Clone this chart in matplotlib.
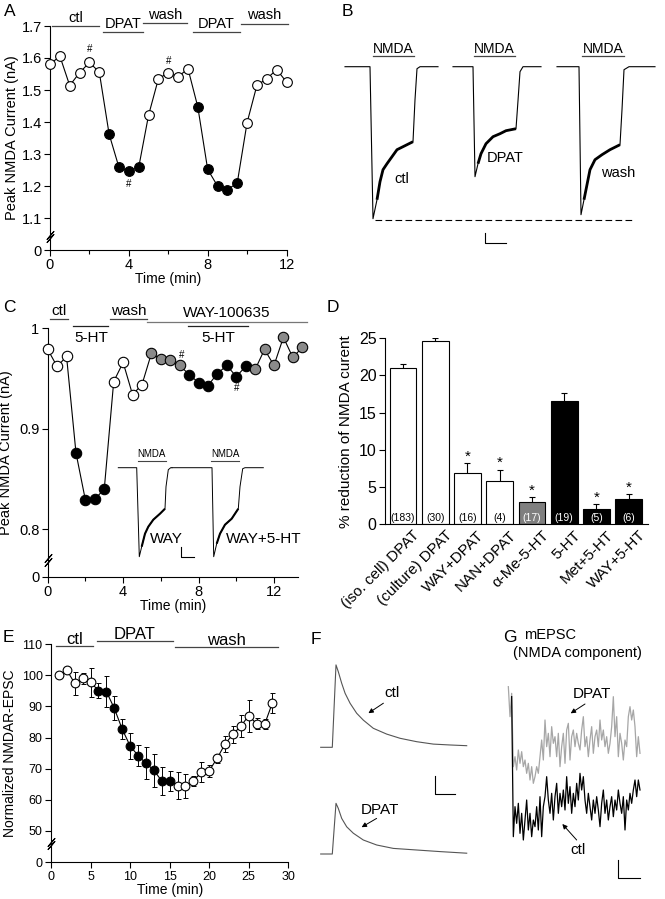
import matplotlib
matplotlib.use("Agg")
import matplotlib.pyplot as plt
import matplotlib.transforms as mt
import numpy as np

plt.rcParams["font.family"] = ["Liberation Sans", "DejaVu Sans"]
plt.rcParams["axes.linewidth"] = 0.8

W, H = 665, 899

# ---------------- panel A: peak NMDA current time course
a_time = [0, 0.5, 1, 1.5, 2, 2.5, 3, 3.5, 4, 4.5, 5, 5.5, 6, 6.5, 7, 7.5, 8, 8.5, 9, 9.5, 10, 10.5, 11, 11.5, 12]
a_current = [1.58, 1.606, 1.514, 1.554, 1.586, 1.556, 1.362, 1.258, 1.247, 1.258, 1.421, 1.535, 1.554,
             1.541, 1.567, 1.447, 1.252, 1.200, 1.189, 1.209, 1.398, 1.515, 1.535, 1.564, 1.525]
a_state = "oooooo" "ffff" "ooooo" "fffff" "ooooo"
a_bar_labels = ["ctl", "DPAT", "wash", "DPAT", "wash"]
a_bar_start = [0.08, 2.68, 4.71, 7.25, 9.7]
a_bar_end = [2.5, 4.71, 6.95, 9.63, 12.07]
a_bar_level = [1.700, 1.680, 1.708, 1.680, 1.706]
a_text_level = [1.726, 1.707, 1.734, 1.707, 1.734]
a_hash = [(2.0, 1.627), (4.0, 1.205), (6.0, 1.591)]

# ---------------- panel B: example NMDA currents (time s, current nA)
b_t_ctl = [0, 2.5, 2.8, 3.2, 3.5, 3.8, 4.2, 4.7, 5.2, 5.8, 6.8, 7.0, 7.2, 7.5, 9.3]
b_i_ctl = [0, 0, -1.52, -1.33, -1.15, -1.03, -0.97, -0.90, -0.83, -0.80, -0.75, -0.33, -0.02, 0, 0]
b_t_dpat = [0, 2.0, 2.2, 2.5, 2.8, 3.3, 4.0, 4.7, 5.3, 6.3, 6.5, 6.7, 7.0, 8.8]
b_i_dpat = [0, 0, -1.10, -0.97, -0.87, -0.77, -0.70, -0.67, -0.64, -0.62, -0.34, -0.05, 0, 0]
b_t_wash = [0, 2.2, 2.4, 2.7, 3.0, 3.3, 3.8, 4.5, 5.3, 6.3, 6.5, 6.7, 7.2, 9.8]
b_i_wash = [0, 0, -1.48, -1.33, -1.18, -1.03, -0.93, -0.88, -0.83, -0.78, -0.43, -0.03, 0, 0]
b_offsets = [1.5, 12.3, 22.7]
b_noisy_end = [11, 10, 10]
b_labels = ["ctl", "DPAT", "wash"]
b_label_pos = [(7.17, -1.12), (17.5, -0.91), (28.83, -1.06)]
b_nmda = [(4.27, 8.4), (14.4, 18.5), (25.23, 29.43)]

# ---------------- panel C: 5-HT with WAY-100635
c_time = [0, 0.5, 1, 1.5, 2, 2.5, 3, 3.5, 4, 4.5, 5, 5.5, 6, 6.5, 7, 7.5, 8, 8.5, 9, 9.5, 10,
          10.5, 11, 11.5, 12, 12.5, 13, 13.5]
c_current = [0.979, 0.962, 0.972, 0.876, 0.829, 0.830, 0.840, 0.947, 0.966, 0.934, 0.944, 0.975,
             0.969, 0.968, 0.963, 0.954, 0.946, 0.943, 0.955, 0.963, 0.952, 0.962, 0.959, 0.979,
             0.963, 0.991, 0.971, 0.981]
c_state = "ooo" "ffff" "oooo" "gggg" "fffffff" "gggggg"
c_hash = [(7.1, 0.973), (10.0, 0.941)]

ci_t_way = [0, 1.84, 2.1, 2.34, 2.67, 3.0, 3.5, 4.17, 4.67, 4.77, 5.0, 5.24, 5.37]
ci_i_way = [0, 0, -0.89, -0.79, -0.66, -0.59, -0.52, -0.46, -0.41, -0.19, -0.02, 0, 0]
ci_t_way5ht = [0, 4.0, 4.17, 4.47, 4.8, 5.3, 5.97, 6.63, 6.8, 7.07, 7.3, 9.13]
ci_i_way5ht = [0, 0, -0.89, -0.76, -0.66, -0.57, -0.51, -0.41, -0.19, -0.01, 0, 0]
ci_noisy_end = [9, 8]

# ---------------- panel D: summary bars
d_labels = ["(iso. cell) DPAT", "(culture) DPAT", "WAY+DPAT", "NAN+DPAT", "\u03b1-Me-5-HT",
            "5-HT", "Met+5-HT", "WAY+5-HT"]
d_values = [21.0, 24.7, 6.8, 5.8, 3.0, 16.6, 2.0, 3.4]
d_err = [0.6, 0.35, 1.4, 1.5, 0.6, 1.0, 0.65, 0.6]
d_n = ["(183)", "(30)", "(16)", "(4)", "(17)", "(19)", "(5)", "(6)"]
d_group = ["w", "w", "w", "w", "g", "k", "k", "k"]
d_sig = [False, False, True, True, True, False, True, True]

# ---------------- panel E: NMDAR-EPSC
e_time = list(range(1, 29))
e_value = [100.0, 101.7, 97.4, 99.0, 97.8, 95.1, 94.8, 89.4, 82.7, 77.3, 74.2, 71.7, 69.5, 66.0,
           66.0, 64.5, 64.4, 66.0, 68.8, 69.3, 73.3, 77.9, 81.0, 83.7, 87.0, 84.4, 84.2, 91.2]
e_err = [0.0, 1.0, 3.7, 1.7, 4.7, 2.4, 5.0, 3.8, 3.3, 4.1, 3.5, 5.2, 5.3, 4.5, 3.1, 4.3, 4.0,
         1.5, 3.2, 2.0, 1.5, 2.5, 2.8, 3.5, 5.2, 1.8, 1.6, 3.2]
e_state = "ooooo" "ffffffffff" "ooooooooooooo"

# ---------------- panel F: evoked EPSCs (ms, pA)
f_t_ctl = [0, 58, 76.5, 88, 105, 122, 147, 180, 213, 263, 330, 397, 480, 563, 647, 730]
f_i_ctl = [0, 0, 206, 189, 160, 135, 110, 85, 68, 47.5, 33, 22.5, 14, 8, 5.8, 4]
f_t_dpat = [0, 58, 76.5, 88, 105, 130, 163, 213, 280, 363, 480, 597, 730]
f_i_dpat = [0, 0, 126.7, 114, 89, 68, 52, 35, 22.5, 14, 10, 6, 2]

# ---------------- panel G: mEPSC NMDA component (0.5 ms samples)
g_dpat = [48, 39, 46, 24, 27, 23, 29, 25, 28.5, 24, 26, 22, 25, 20, 24, 19, 21, 24, 22, 27,
          32, 26, 38, 30, 34, 27, 36, 31, 33, 27, 34, 24, 30, 34, 25, 35, 37, 26, 33, 35,
          30, 34, 31, 29, 35, 39, 30, 33, 27, 32, 36, 28, 33, 35, 30, 38, 32, 35, 30, 33,
          28, 31, 36, 45, 33, 39, 27, 34, 31, 26, 32, 30, 39, 42, 38, 41, 36, 27, 33, 28]
g_ctl = [45, 3, 12, 7, 13, 4, 10, 2, 8, 14, 5, 10, 3, 8, 6, 12, 5, 15, 3, 12,
         15, 21, 14, 10, 16, 8, 15, 19, 10, 16, 12, 17, 11, 21, 13, 18, 10, 16, 12, 19,
         14, 22, 17, 21, 14, 10, 16, 12, 8, 14, 10, 15, 11, 6, 13, 17, 10, 14, 8, 12,
         15, 9, 14, 11, 17, 13, 10, 15, 5, 14, 11, 16, 13, 17, 20, 15, 20, 17]
g_t0_dpat, g_t0_ctl, g_dt = 2.5, 3.5, 0.5


def add_axes_px(left, top, right, bottom):
    return fig.add_axes([left / W, 1 - bottom / H, (right - left) / W, (bottom - top) / H])


def style_timecourse(ax, tick_size):
    for s in ("top", "right"):
        ax.spines[s].set_visible(False)
    ax.tick_params(direction="out", length=4, width=0.8, labelsize=tick_size, pad=2)
    ax.tick_params(which="minor", direction="out", length=3, width=0.8)


def break_marks(ax, yval, gap_pts=2.2):
    base = ax.get_yaxis_transform()
    for dy in (-gap_pts / 2, gap_pts / 2):
        tr = mt.offset_copy(base, fig=fig, x=0, y=dy, units="points")
        ax.plot([0], [yval], transform=tr, marker=(2, 2, -40), ms=8, color="black",
                mew=0.8, ls="none", clip_on=False, zorder=5)


def draw_points(ax, t, v, state, ms):
    face = {"o": "white", "f": "black", "g": "#8a8a8a"}
    ax.plot(t, v, color="black", lw=0.8, zorder=2, clip_on=False)
    for x, y, s in zip(t, v, state):
        ax.plot(x, y, "o", ms=ms, mfc=face[s], mec="black", mew=0.8, zorder=3, clip_on=False)


fig = plt.figure(figsize=(W / 100, H / 100), dpi=100)

# ================= A
ax = add_axes_px(50, 26, 286.5, 250)
ax.set_xlim(0, 12)
ax.set_ylim(1.0, 1.7)
draw_points(ax, a_time, a_current, a_state, 7)
for lab, x0, x1, ly, ty in zip(a_bar_labels, a_bar_start, a_bar_end, a_bar_level, a_text_level):
    ax.plot([x0, x1], [ly, ly], color="#444444", lw=0.9, clip_on=False)
    ax.text((x0 + x1) / 2, ty, lab, ha="center", va="center", fontsize=10.5)
for x, y in a_hash:
    ax.text(x, y, "#", ha="center", va="center", fontsize=7)
style_timecourse(ax, 10.5)
ax.set_yticks([1.0, 1.1, 1.2, 1.3, 1.4, 1.5, 1.6, 1.7])
ax.set_yticklabels(["0", "1.1", "1.2", "1.3", "1.4", "1.5", "1.6", "1.7"])
ax.set_xticks([0, 4, 8, 12])
ax.set_xticks([2, 6, 10], minor=True)
ax.set_xlabel("Time (min)", fontsize=10, labelpad=0)
ax.set_ylabel("Peak NMDA Current (nA)", fontsize=10.5, labelpad=2)
break_marks(ax, 1.041)

# ================= B
ax = add_axes_px(330, 30, 665, 260)
ax.set_xlim(0, 33.5)
ax.set_ylim(-1.933, 0.367)
ax.axis("off")
for off, tt, ii, end, lab, pos, nm in zip(b_offsets, [b_t_ctl, b_t_dpat, b_t_wash],
                                          [b_i_ctl, b_i_dpat, b_i_wash], b_noisy_end,
                                          b_labels, b_label_pos, b_nmda):
    tt = np.array(tt) + off
    ax.plot(tt, ii, color="black", lw=0.8)
    ax.plot(tt[3:end], ii[3:end], color="black", lw=2.0, solid_capstyle="butt")
    ax.text(pos[0], pos[1], lab, ha="center", va="center", fontsize=10.5)
    ax.plot(nm, [0.107, 0.107], color="#444444", lw=0.9)
    ax.text(np.mean(nm), 0.175, "NMDA", ha="center", va="center", fontsize=10)
ax.plot([4.5, 30.3], [-1.53, -1.53], color="black", lw=0.8, dashes=(6, 3))
ax.plot([15.5, 15.5, 17.6], [-1.66, -1.76, -1.76], color="black", lw=0.8)

# ================= C
ax = add_axes_px(47.7, 328.3, 298.3, 576.7)
ax.set_xlim(0, 13.29)
ax.set_ylim(0.7528, 1.0)
draw_points(ax, c_time, c_current, c_state, 7.5)
c_bars = [("ctl", 0.12, 1.06, 1.009, 1.0168, "#444444"),
          ("5-HT", 1.36, 3.22, 1.0023, 0.9905, "#222222"),
          ("wash", 3.30, 5.25, 1.009, 1.0172, "#444444"),
          ("WAY-100635", 5.25, 13.73, 1.0066, 1.0152, "#777777"),
          ("5-HT", 7.46, 10.64, 1.0023, 0.9905, "#222222")]
for lab, x0, x1, ly, ty, col in c_bars:
    ax.plot([x0, x1], [ly, ly], color=col, lw=0.9, clip_on=False)
    ax.text((x0 + x1) / 2, ty, lab, ha="center", va="center", fontsize=11)
for x, y in c_hash:
    ax.text(x, y, "#", ha="center", va="center", fontsize=7)
style_timecourse(ax, 10.5)
ax.set_yticks([0.7528, 0.8, 0.9, 1.0])
ax.set_yticklabels(["0", "0.8", "0.9", "1"])
ax.set_xticks([0, 4, 8, 12])
ax.set_xticks([2, 6, 10], minor=True)
ax.set_xlabel("Time (min)", fontsize=10, labelpad=0)
ax.set_ylabel("Peak NMDA Current (nA)", fontsize=10.5, labelpad=4)
break_marks(ax, 0.7694)

# inset traces
ax = add_axes_px(110, 450, 300, 570)
ax.set_xlim(0, 19)
ax.set_ylim(-1.023, 0.177)
ax.axis("off")
for off, tt, ii, end, nm, lab, lx in zip([0.83, 6.2], [ci_t_way, ci_t_way5ht],
                                         [ci_i_way, ci_i_way5ht], ci_noisy_end,
                                         [(2.77, 5.57), (10.07, 12.93)], ["WAY", "WAY+5-HT"],
                                         [5.67, 15.33]):
    tt = np.array(tt) + off
    ax.plot(tt, ii, color="black", lw=0.7)
    ax.plot(tt[3:end], ii[3:end], color="black", lw=1.5, solid_capstyle="butt")
    ax.plot(nm, [0.067, 0.067], color="#444444", lw=0.8)
    ax.text(np.mean(nm), 0.137, "NMDA", ha="center", va="center", fontsize=7)
    ax.text(lx, -0.71, lab, ha="center", va="center", fontsize=11)
ax.plot([7.1, 7.1, 8.43], [-0.79, -0.89, -0.89], color="black", lw=0.8)

# ================= D
ax = add_axes_px(385, 338.3, 648.3, 524)
xs = np.arange(len(d_values))
fills = {"w": "white", "g": "#7f7f7f", "k": "black"}
ax.bar(xs, d_values, width=0.83, color=[fills[g] for g in d_group], edgecolor="black", lw=0.8, zorder=2)
ax.vlines(xs, d_values, np.array(d_values) + np.array(d_err), color="black", lw=0.8)
ax.hlines(np.array(d_values) + np.array(d_err), xs - 0.09, xs + 0.09, color="black", lw=0.8)
for x, v, e, n, g, s in zip(xs, d_values, d_err, d_n, d_group, d_sig):
    ax.text(x, 0.75, n, ha="center", va="center", fontsize=7.5,
            color="black" if g == "w" else "white")
    if s:
        ax.text(x, v + e + 0.9, "*", ha="center", va="center", fontsize=11)
ax.set_xlim(-0.555, 7.61)
ax.set_ylim(0, 25)
for s in ("top", "right"):
    ax.spines[s].set_visible(False)
ax.set_yticks([0, 5, 10, 15, 20, 25])
ax.tick_params(axis="y", direction="out", length=4, width=0.8, labelsize=11.5, pad=2)
ax.set_xticks(xs + 0.3)
ax.set_xticklabels(d_labels, rotation=45, ha="right", rotation_mode="anchor", fontsize=11)
ax.tick_params(axis="x", length=0, pad=3)
ax.set_ylabel("% reduction of NMDA curent", fontsize=11, labelpad=4)

# ================= E
ax = add_axes_px(51, 644.3, 288.3, 862.3)
ax.set_xlim(0, 30)
ax.set_ylim(39.83, 110)
ax.errorbar(e_time, e_value, yerr=e_err, fmt="none", ecolor="black", elinewidth=0.7,
            capsize=1.8, capthick=0.7, zorder=1)
draw_points(ax, e_time, e_value, e_state, 6.3)
e_bars = [("ctl", 0.63, 5.35, 109.5, 111.7), ("DPAT", 5.77, 15.47, 111.2, 113.1),
          ("wash", 15.68, 28.65, 109.0, 111.3)]
for lab, x0, x1, ly, ty in e_bars:
    ax.plot([x0, x1], [ly, ly], color="#444444", lw=0.9, clip_on=False)
    ax.text((x0 + x1) / 2, ty, lab, ha="center", va="center", fontsize=12)
style_timecourse(ax, 9)
ax.set_yticks([39.83, 50, 60, 70, 80, 90, 100, 110])
ax.set_yticklabels(["0", "50", "60", "70", "80", "90", "100", "110"])
ax.set_xticks([0, 5, 10, 15, 20, 25, 30])
ax.set_xlabel("Time (min)", fontsize=10, labelpad=0)
ax.set_ylabel("Normalized NMDAR-EPSC", fontsize=10, labelpad=3)
break_marks(ax, 45.95)

# ================= F
ax = add_axes_px(315, 650, 500, 890)
ax.set_xlim(0, 925)
ax.set_ylim(0, 600)
ax.axis("off")
ax.plot(np.array(f_t_ctl) + 28.5, np.array(f_i_ctl) + 356.75, color="#555555", lw=0.8)
ax.plot(np.array(f_t_dpat) + 28.5, np.array(f_i_dpat) + 90, color="#555555", lw=0.8)
ax.text(383, 492, "ctl", ha="center", va="center", fontsize=11)
ax.text(325, 200, "DPAT", ha="center", va="center", fontsize=11)
arrow = dict(arrowstyle="-|>", lw=0.7, color="black", mutation_scale=7, shrinkA=0, shrinkB=0)
ax.annotate("", xy=(267, 442), xytext=(342, 467), arrowprops=arrow)
ax.annotate("", xy=(233, 157), xytext=(308, 179), arrowprops=arrow)
ax.plot([600, 600, 700], [285, 240, 240], color="black", lw=0.8)

# ================= G
ax = add_axes_px(500, 680, 665, 899)
ax.set_xlim(0, 49.5)
ax.set_ylim(-15.7, 50)
ax.axis("off")
tg_d = g_t0_dpat + g_dt * np.arange(len(g_dpat))
tg_c = g_t0_ctl + g_dt * np.arange(len(g_ctl))
ax.plot(tg_d, g_dpat, color="#a6a6a6", lw=0.9)
ax.plot(tg_c, g_ctl, color="black", lw=0.9)
ax.text(27.5, 45.8, "DPAT", ha="center", va="center", fontsize=11)
ax.text(23.5, -1.0, "ctl", ha="center", va="center", fontsize=11)
ax.annotate("", xy=(21.2, 40), xytext=(25.5, 42.8), arrowprops=arrow)
ax.annotate("", xy=(18.7, 6.8), xytext=(23.0, 2.0), arrowprops=arrow)
ax.plot([35.3, 35.3, 42], [-4, -9.5, -9.5], color="black", lw=0.8)

# panel letters and titles
for lab, x, y in [("A", 10, 11), ("B", 347, 11), ("C", 9, 308), ("D", 333, 307),
                  ("E", 8, 637), ("F", 316, 639), ("G", 510, 638)]:
    fig.text(x / W, 1 - y / H, lab, ha="center", va="center", fontsize=12.5)
fig.text(550 / W, 1 - 635 / H, "mEPSC", ha="center", va="center", fontsize=10.5)
fig.text(577 / W, 1 - 653 / H, "(NMDA component)", ha="center", va="center", fontsize=10.5)

fig.savefig("out.png", dpi=100)
